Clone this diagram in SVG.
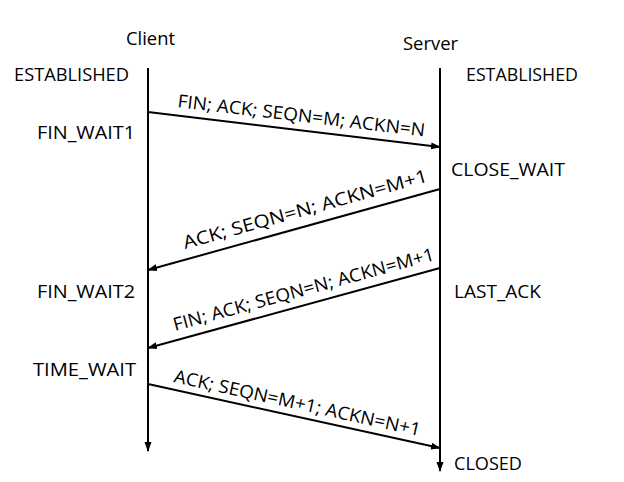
<svg xmlns="http://www.w3.org/2000/svg" width="624" height="482" viewBox="0 0 624 482">
<style>
text{font-family:"Open Sans","Noto Sans",sans-serif;font-size:18px;fill:#000}
.l{stroke:#000;stroke-width:2;fill:none}
</style>
<defs>
<marker id="ah" markerWidth="10" markerHeight="8" refX="9" refY="4" orient="auto" markerUnits="userSpaceOnUse">
<path d="M0,0.5 L10,4 L0,7.5 Z" fill="#000"/>
</marker>
</defs>
<rect width="624" height="482" fill="#fff"/>
<g id="client">
<text x="126" y="45" textLength="49" lengthAdjust="spacingAndGlyphs">Client</text>
<text x="14" y="81" textLength="115" lengthAdjust="spacingAndGlyphs">ESTABLISHED</text>
<text x="37" y="139" textLength="98" lengthAdjust="spacingAndGlyphs">FIN_WAIT1</text>
<text x="37" y="298" textLength="98" lengthAdjust="spacingAndGlyphs">FIN_WAIT2</text>
<text x="33" y="376" textLength="103" lengthAdjust="spacingAndGlyphs">TIME_WAIT</text>
</g>
<g id="server">
<text x="403" y="50" textLength="55" lengthAdjust="spacingAndGlyphs">Server</text>
<text x="466" y="81" textLength="112" lengthAdjust="spacingAndGlyphs">ESTABLISHED</text>
<text x="451" y="176" textLength="114" lengthAdjust="spacingAndGlyphs">CLOSE_WAIT</text>
<text x="454" y="298" textLength="87" lengthAdjust="spacingAndGlyphs">LAST_ACK</text>
<text x="454" y="470" textLength="68" lengthAdjust="spacingAndGlyphs">CLOSED</text>
</g>
<g id="connectors">
<line class="l" x1="148" y1="68" x2="148" y2="451" marker-end="url(#ah)"/>
<line class="l" x1="440" y1="68" x2="440" y2="471" marker-end="url(#ah)"/>
<line class="l" x1="148" y1="112" x2="440" y2="147" marker-end="url(#ah)"/>
<line class="l" x1="440" y1="189" x2="148" y2="270" marker-end="url(#ah)"/>
<line class="l" x1="440" y1="268" x2="148" y2="348" marker-end="url(#ah)"/>
<line class="l" x1="148" y1="384" x2="440" y2="448" marker-end="url(#ah)"/>
<text transform="translate(177,107) rotate(6.8)" textLength="249" lengthAdjust="spacingAndGlyphs">FIN; ACK; SEQN=M; ACKN=N</text>
<text transform="translate(185,249) rotate(-15.5)" textLength="253" lengthAdjust="spacingAndGlyphs">ACK; SEQN=N; ACKN=M+1</text>
<text transform="translate(175,331) rotate(-15.3)" textLength="270" lengthAdjust="spacingAndGlyphs">FIN; ACK; SEQN=N; ACKN=M+1</text>
<text transform="translate(173,382) rotate(12.4)" textLength="252" lengthAdjust="spacingAndGlyphs">ACK; SEQN=M+1; ACKN=N+1</text>
</g>
</svg>
